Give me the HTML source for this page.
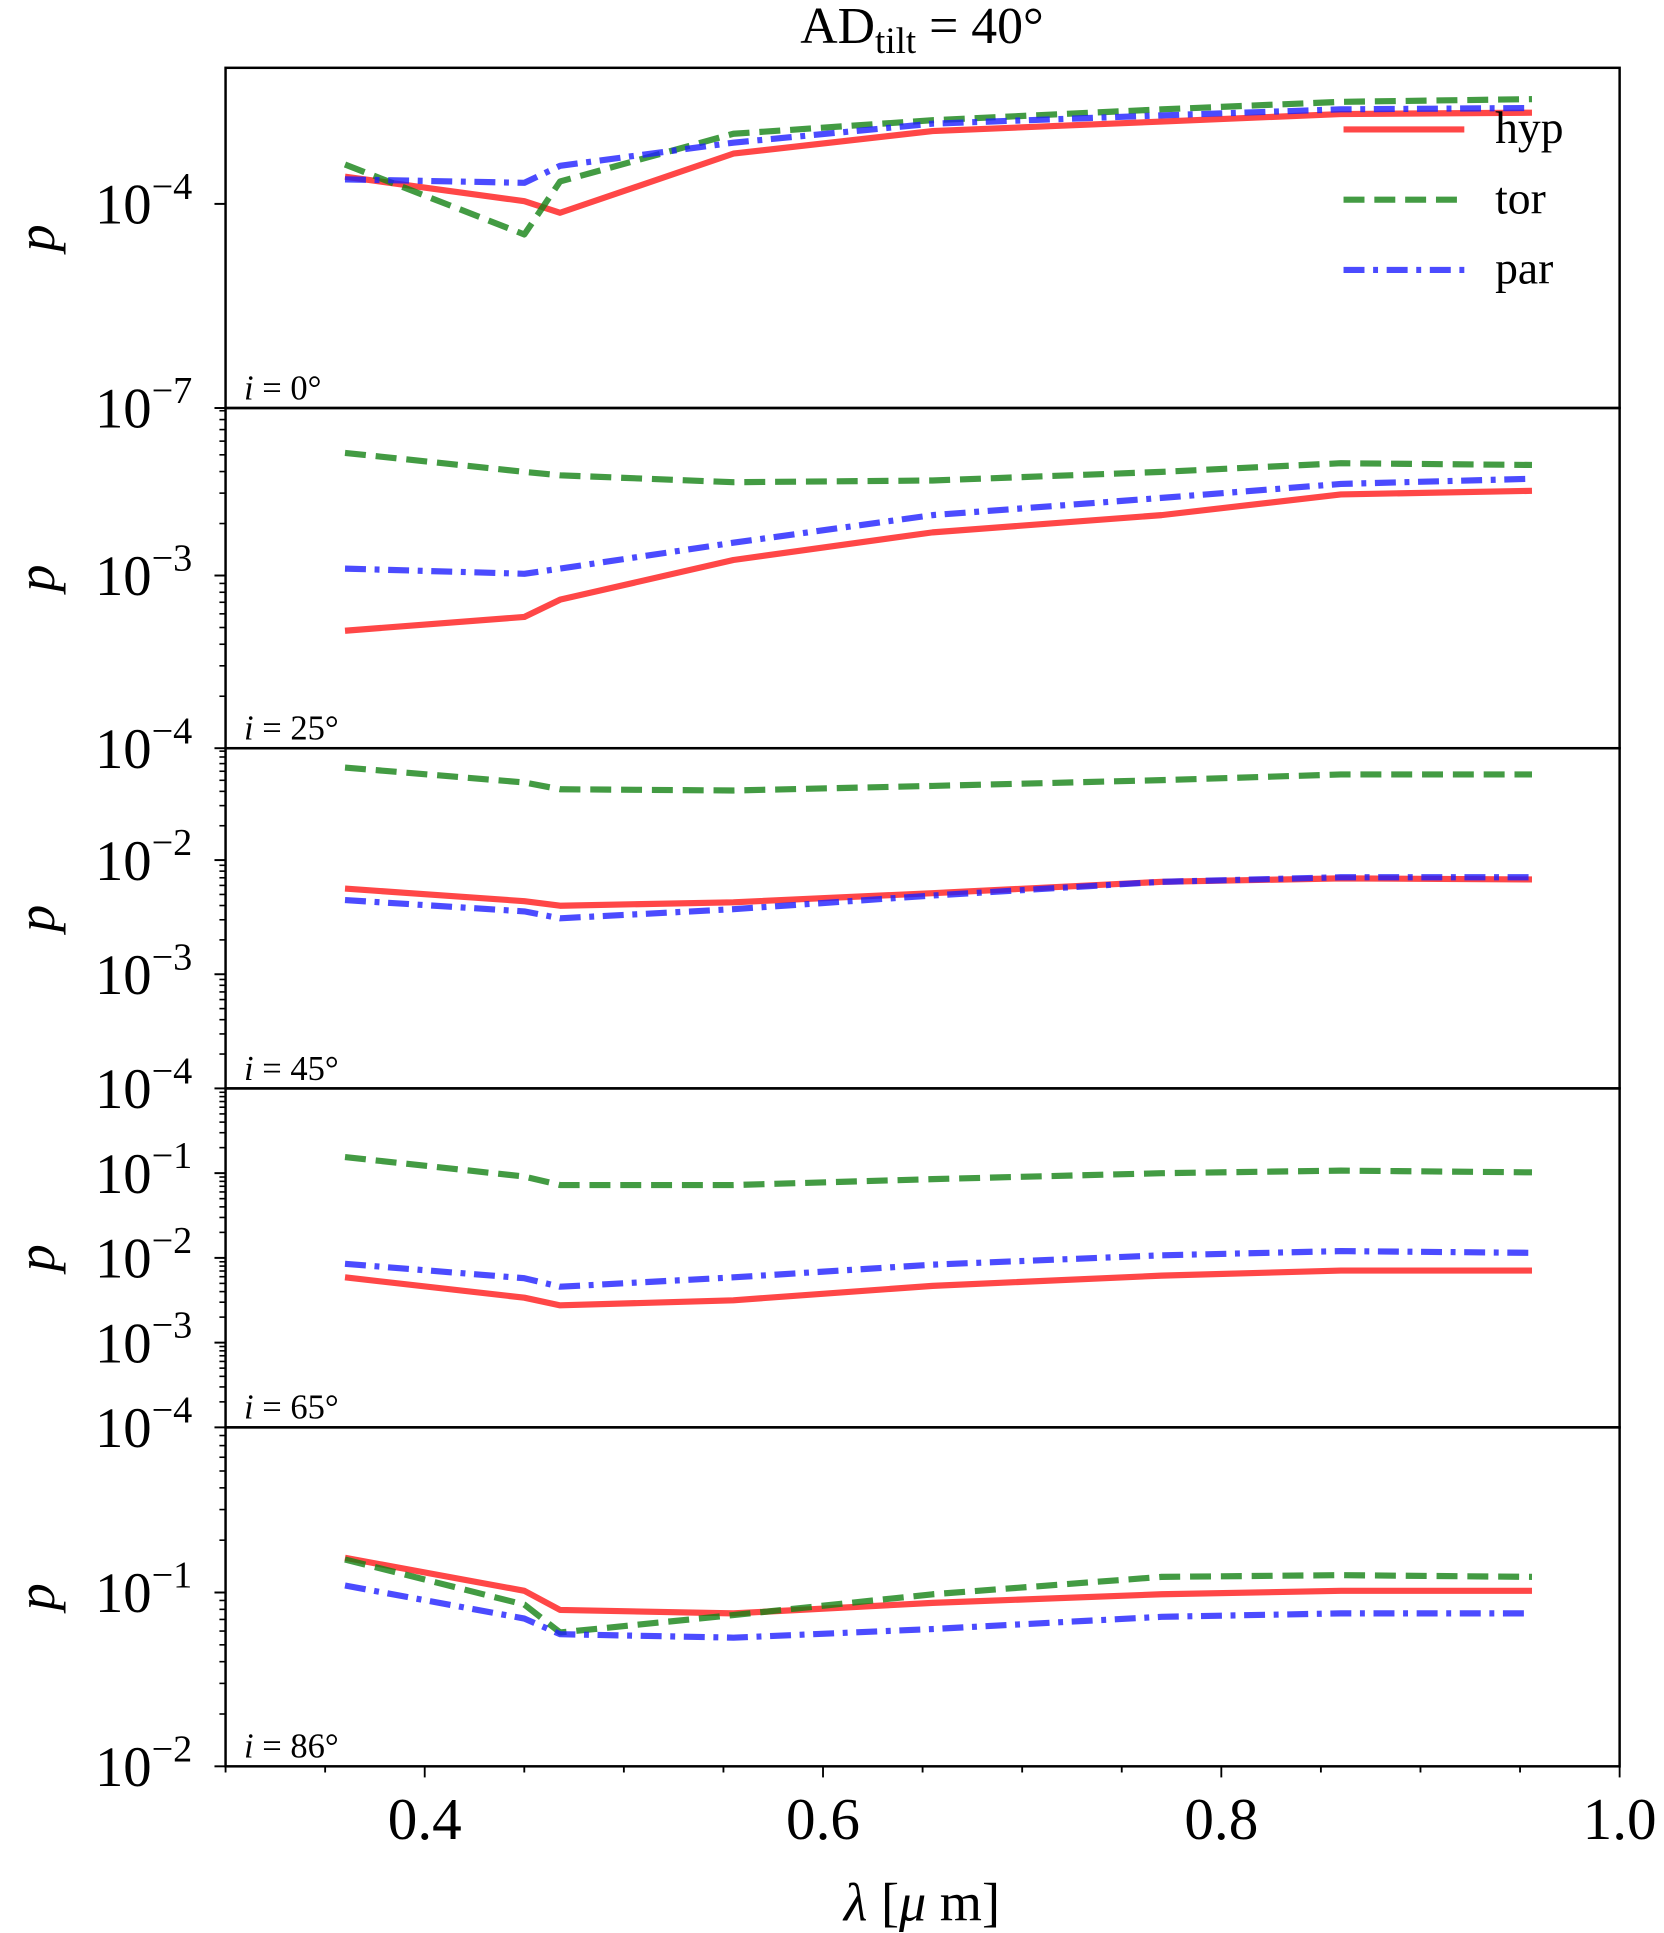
<!DOCTYPE html>
<html><head><meta charset="utf-8"><style>
html,body{margin:0;padding:0;background:#fff}
svg{display:block}
text{font-family:"Liberation Serif","DejaVu Serif",serif;fill:#000}
</style></head><body>
<svg id="chart" width="1664" height="1933" viewBox="0 0 1350 1568.2" xmlns="http://www.w3.org/2000/svg">
<text x="748" y="35" font-size="42" text-anchor="middle">AD<tspan font-size="30" dy="8">tilt</tspan><tspan dy="-8"> = 40°</tspan></text>
<g id="plots"></g>
</svg>
<script>
const wavelengths = [0.36, 0.45, 0.468, 0.555, 0.655, 0.77, 0.86, 0.956];
const panelLabels = ["i = 0°", "i = 25°", "i = 45°", "i = 65°", "i = 86°"];
// log10(p) per panel
const hypLog = [
  [-3.60,-3.96,-4.13,-3.26,-2.93,-2.79,-2.68,-2.66],
  [-3.32,-3.24,-3.14,-2.91,-2.75,-2.65,-2.53,-2.51],
  [-2.25,-2.36,-2.40,-2.37,-2.29,-2.19,-2.16,-2.17],
  [-2.23,-2.47,-2.56,-2.50,-2.33,-2.21,-2.15,-2.15],
  [-0.80,-0.99,-1.10,-1.12,-1.06,-1.01,-0.99,-0.99]
];
const torLog = [
  [-3.42,-4.45,-3.67,-2.97,-2.77,-2.61,-2.50,-2.46],
  [-2.29,-2.40,-2.42,-2.46,-2.45,-2.40,-2.35,-2.36],
  [-1.19,-1.32,-1.38,-1.39,-1.35,-1.30,-1.25,-1.25],
  [-0.81,-1.04,-1.14,-1.14,-1.07,-1.00,-0.97,-0.99],
  [-0.81,-1.07,-1.23,-1.13,-1.01,-0.91,-0.90,-0.91]
];
const parLog = [
  [-3.64,-3.69,-3.44,-3.10,-2.82,-2.70,-2.61,-2.59],
  [-2.96,-2.99,-2.96,-2.81,-2.65,-2.55,-2.47,-2.44],
  [-2.35,-2.45,-2.51,-2.43,-2.31,-2.19,-2.15,-2.15],
  [-2.07,-2.24,-2.34,-2.23,-2.08,-1.97,-1.92,-1.94],
  [-0.96,-1.15,-1.24,-1.26,-1.21,-1.14,-1.12,-1.12]
];
const yMin = [-7, -4, -4, -4, -2];
const yMax = [-2, -2.03, -1.02, 0, -0.05];
const yTicks = [[-7,-4], [-4,-3], [-4,-3,-2], [-4,-3,-2,-1], [-2,-1]];
const xTicks = [0.4, 0.6, 0.8, 1.0];

const NS = "http://www.w3.org/2000/svg";
const L = 183, R = 1314, X0 = 0.3, X1 = 1.0;
const tops = [55, 331, 607, 883, 1158];
const bots = [331, 607, 883, 1158, 1433];
const g = document.getElementById('plots');
function el(t, a, parent) { const e = document.createElementNS(NS, t); for (const k in a) e.setAttribute(k, a[k]); (parent || g).appendChild(e); return e; }
function xs(v) { return L + (v - X0) / (X1 - X0) * (R - L); }

const series = [
  {name: "hyp", data: hypLog, color: "rgba(255,30,30,0.82)", dash: null},
  {name: "tor", data: torLog, color: "rgba(20,130,20,0.8)", dash: "17 8"},
  {name: "par", data: parLog, color: "rgba(30,30,255,0.8)", dash: "17 7 4 7"}
];

for (let p = 0; p < 5; p++) {
  const T = tops[p], B = bots[p];
  const ys = v => B - (v - yMin[p]) / (yMax[p] - yMin[p]) * (B - T);
  const pg = el('g', {});
  
  
  if (p > 0) {
    for (let d = Math.floor(yMin[p]); d < Math.ceil(yMax[p]); d++) {
      for (let m = 2; m <= 9; m++) {
        const v = d + Math.log10(m);
        if (v <= yMin[p] || v >= yMax[p]) continue;
        const y = ys(v);
        el('line', {x1: L - 5, x2: L, y1: y, y2: y, stroke: '#000', 'stroke-width': 1.3}, pg);
      }
    }
  }
  yTicks[p].forEach(t => {
    const y = ys(t);
    el('line', {x1: L - 9, x2: L, y1: y, y2: y, stroke: '#000', 'stroke-width': 1.6}, pg);
    const tx = el('text', {x: 156, y: y + 16, 'font-size': 46, 'text-anchor': 'end'}, pg);
    
    
    tx.innerHTML = '10<tspan font-size="31" dy="-20">' + String(t).replace('-', '−') + '</tspan>';
  });
  const yl = el('text', {x: 0, y: 0, 'font-size': 44, 'font-style': 'italic', transform: 'translate(44,' + ((T + B) / 2) + ') rotate(-90)', 'text-anchor': 'middle'}, pg);
  
  
  yl.textContent = 'p';
  series.forEach(s => {
    const pts = wavelengths.map((w, i) => xs(w).toFixed(1) + ',' + ys(s.data[p][i]).toFixed(1)).join(' ');
    const a = {points: pts, fill: 'none', stroke: s.color, 'stroke-width': 5, 'stroke-linejoin': 'round'};
    if (s.dash) a['stroke-dasharray'] = s.dash;
    const line = el('polyline', a, pg);
    
    
  });
  const lab = el('text', {x: 198, y: B - 7, 'font-size': 28}, pg);
  
  
  lab.innerHTML = '<tspan font-style="italic">i</tspan> = ' + panelLabels[p].split('= ')[1];
  const frame = el('rect', {x: L, y: T, width: R - L, height: B - T, fill: 'none', stroke: '#000', 'stroke-width': 2}, pg);
  
  
}
for (let k = 0; k <= 14; k++) {
  const v = 0.3 + k * 0.05;
  const major = xTicks.some(t => Math.abs(t - v) < 1e-6);
  el('line', {x1: xs(v), x2: xs(v), y1: 1433, y2: 1433 + (major ? 9 : 5), stroke: '#000', 'stroke-width': 1.5});
}
xTicks.forEach(t => {
  const tx = el('text', {x: xs(t), y: 1492, 'font-size': 48, 'text-anchor': 'middle'});
  
  
  tx.textContent = t.toFixed(1);
});
const xl = el('text', {x: 748, y: 1558, 'font-size': 44, 'text-anchor': 'middle'});


xl.innerHTML = '<tspan font-style="italic">λ</tspan> [<tspan font-style="italic">μ</tspan> m]';
const lg = el('g', {});


series.forEach((s, i) => {
  const y = 105 + i * 57;
  const a = {x1: 1090, x2: 1188, y1: y, y2: y, stroke: s.color, 'stroke-width': 5};
  if (s.dash) a['stroke-dasharray'] = s.dash;
  const ln = el('line', a, lg);
  
  
  const t = el('text', {x: 1213, y: y + 11, 'font-size': 37}, lg);
  
  
  t.textContent = s.name;
});
</script>
</body></html>
